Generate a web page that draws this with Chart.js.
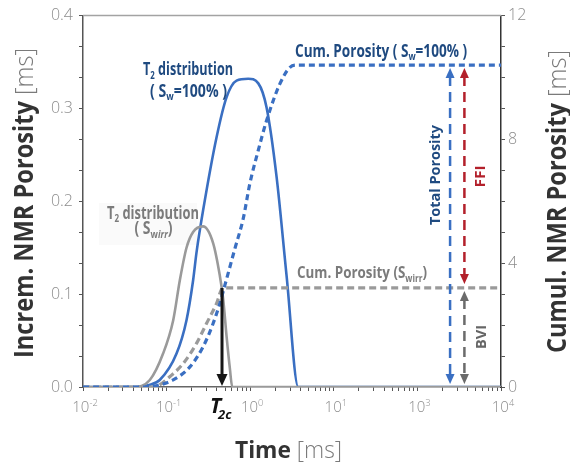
<!DOCTYPE html>
<html>
<head>
<meta charset="utf-8">
<script src="https://cdn.jsdelivr.net/npm/chart.js@4.4.1/dist/chart.umd.min.js"></script>
<style>
  html, body { margin: 0; padding: 0; background: #fff; overflow: hidden; }
  canvas { display: block; }
</style>
</head>
<body>
<canvas id="nmr" width="570" height="466"></canvas>
<script>
// ---- Relaxation-time axis (ms) ----
const xMin = 0.01;
const xMax = 1000;
const xTickValues = [0.01, 0.1, 1, 10, 100, 1000];
const xTickExponents = ['-2', '-1', '0', '1', '3', '4'];
const xMinorFactors = [2, 3, 4, 5, 6, 7, 8, 9];

// ---- Incremental porosity axis (left) ----
const yLeftMax = 0.4;
const yLeftLabelValues = [0, 0.1, 0.2, 0.3, 0.4];
const yLeftMinorPerLabel = 3;

// ---- Cumulative porosity axis (right) ----
const yRightMax = 12;
const yRightLabelValues = [0, 4, 8, 12];
const yRightStep = 1;

// ---- T2 distribution, fully water saturated ----
const t2SwTimes  = [0.01, 0.045, 0.06, 0.0828, 0.1315, 0.173, 0.2076, 0.228, 0.273, 0.396, 0.521, 0.687, 0.946, 1.25, 1.57, 2.07, 2.73, 3.76, 1000];
const t2SwValues = [0,    0,     0.002, 0.0075, 0.036, 0.072, 0.115,  0.145, 0.19,  0.269, 0.312, 0.330, 0.332, 0.327, 0.301, 0.226, 0.119, 0,   0];

// ---- T2 distribution, irreducible water saturation ----
const t2IrrTimes  = [0.01, 0.04, 0.063, 0.0908, 0.12, 0.144, 0.173, 0.2076, 0.273, 0.36, 0.433, 0.475, 0.521, 0.571, 0.61, 1000];
const t2IrrValues = [0,    0,    0.0075, 0.036, 0.072, 0.115, 0.150, 0.167,  0.173, 0.155, 0.12, 0.095, 0.055, 0.02, 0,    0];

// ---- Cumulative porosity, fully water saturated ----
const cumSwTimes  = [0.01, 0.06, 0.075, 0.12, 0.19, 0.273, 0.36, 0.433, 0.498, 0.656, 0.825, 0.99, 1.25, 1.57, 2.27, 2.99, 3.6, 1000];
const cumSwValues = [0,    0,    0.04,  0.23, 0.65, 1.30,  2.05, 2.70,  3.29,  4.47,  5.44,  6.57, 7.65, 8.61, 9.8,  10.33, 10.4, 10.4];

// ---- Cumulative porosity, irreducible water saturation ----
const cumIrrTimes  = [0.01, 0.065, 0.08, 0.109, 0.158, 0.228, 0.30, 0.396, 0.47, 1000];
const cumIrrValues = [0,    0,     0.05, 0.33,  0.76,  1.41,  2.05, 2.70,  3.2,  3.2];

// ---- Derived quantities shown with arrows ----
const t2Cutoff = 0.46;          // T2c
const totalPorosity = 10.4;     // plateau of the Sw=100% cumulative curve
const boundVolume = 3.2;        // plateau of the Swirr cumulative curve
const totalArrowTime = 246;
const splitArrowTime = 365;

const FONT = '"Open Sans", "Noto Sans", "DejaVu Sans", sans-serif';
const NAVY = '#1f4a80';
const BLUE = '#3a6fc2';
const GREY = '#9a9a9a';
const RED = '#b3202b';

const pts = (xs, ys) => xs.map((x, i) => ({ x, y: ys[i] }));

function xTicksList() {
  const list = [];
  for (let d = 0; d < xTickValues.length; d++) {
    list.push({ value: xTickValues[d], major: true });
    if (d < xTickValues.length - 1) {
      xMinorFactors.forEach(f => list.push({ value: xTickValues[d] * f, major: false }));
    }
  }
  return list;
}

function fontStr(size, weight, italic) {
  return (italic ? 'italic ' : '') + weight + ' ' + size + 'px ' + FONT;
}

// Draws a run of text pieces (with optional sub/superscripts) centred on (x, y baseline),
// squeezed horizontally to the requested width.
function drawRich(ctx, parts, opt) {
  ctx.save();
  ctx.translate(opt.x, opt.y);
  if (opt.rotate) ctx.rotate(opt.rotate);
  const items = parts.map(p => {
    const sz = (p.sub || p.sup) ? opt.size * 0.62 : opt.size;
    const f = fontStr(sz, p.weight || opt.weight, p.italic || opt.italic);
    ctx.font = f;
    return { p, f, w: ctx.measureText(p.t).width };
  });
  const natural = items.reduce((a, b) => a + b.w, 0);
  const sx = opt.width ? opt.width / natural : 1;
  ctx.scale(sx, 1);
  let cx = -natural / 2;
  ctx.textBaseline = 'alphabetic';
  ctx.textAlign = 'left';
  items.forEach(it => {
    ctx.font = it.f;
    ctx.fillStyle = it.p.color || opt.color;
    const dy = it.p.sub ? opt.size * 0.22 : (it.p.sup ? -opt.size * 0.42 : 0);
    ctx.fillText(it.p.t, cx, dy);
    cx += it.w;
  });
  ctx.restore();
}

function head(ctx, x, tipY, dir, w, l, color) {
  ctx.beginPath();
  ctx.moveTo(x, tipY);
  ctx.lineTo(x - w / 2, tipY - dir * l);
  ctx.lineTo(x + w / 2, tipY - dir * l);
  ctx.closePath();
  ctx.fillStyle = color;
  ctx.fill();
}

function vArrow(ctx, x, yTop, yBot, o) {
  ctx.save();
  ctx.strokeStyle = o.color;
  ctx.lineWidth = o.width;
  ctx.setLineDash(o.dash || []);
  ctx.beginPath();
  ctx.moveTo(x, o.headTop ? yTop + o.l * 0.8 : yTop);
  ctx.lineTo(x, o.headBot ? yBot - o.l * 0.8 : yBot);
  ctx.stroke();
  ctx.setLineDash([]);
  if (o.headTop) head(ctx, x, yTop, -1, o.w, o.l, o.color);
  if (o.headBot) head(ctx, x, yBot, 1, o.w, o.l, o.color);
  ctx.restore();
}

const decor = {
  id: 'decor',
  beforeDraw(chart) {
    const ctx = chart.ctx;
    ctx.save();
    ctx.fillStyle = '#fff';
    ctx.fillRect(0, 0, chart.width, chart.height);
    ctx.restore();
  },
  beforeDatasetsDraw(chart) {
    // faint backing panel behind the Swirr distribution caption
    const ctx = chart.ctx;
    ctx.save();
    ctx.fillStyle = '#fafafa';
    ctx.fillRect(99, 203, 98, 42);
    ctx.restore();
  },
  afterDraw(chart) {
    const ctx = chart.ctx;
    const a = chart.chartArea;
    const xs = chart.scales.x, yr = chart.scales.y1;

    // frame top edge
    ctx.save();
    ctx.strokeStyle = '#a3a3a3';
    ctx.lineWidth = 1.5;
    ctx.beginPath();
    ctx.moveTo(a.left, a.top);
    ctx.lineTo(a.right, a.top);
    ctx.stroke();
    ctx.restore();

    // x tick labels with exponents
    xTickValues.forEach((v, i) => {
      const px = xs.getPixelForValue(v);
      drawRich(ctx, [{ t: '10' }, { t: xTickExponents[i], sup: true }],
        { x: px + 2, y: 412, size: 15, weight: 300, color: '#8c8c8c' });
    });

    // T2 cutoff arrow
    const xc = xs.getPixelForValue(t2Cutoff);
    vArrow(ctx, xc, yr.getPixelForValue(boundVolume), yr.getPixelForValue(0) - 1,
      { color: '#151515', width: 3, headBot: true, w: 11, l: 12 });

    // total porosity, FFI and BVI arrows
    const xt = xs.getPixelForValue(totalArrowTime);
    const xsplit = xs.getPixelForValue(splitArrowTime);
    vArrow(ctx, xt, yr.getPixelForValue(totalPorosity) + 3, yr.getPixelForValue(0) - 3,
      { color: BLUE, width: 2.5, dash: [10, 6], headTop: true, headBot: true, w: 9, l: 10 });
    vArrow(ctx, xsplit, yr.getPixelForValue(totalPorosity) + 3, yr.getPixelForValue(boundVolume) - 4,
      { color: RED, width: 2.5, dash: [10, 6], headTop: true, headBot: true, w: 9, l: 10 });
    vArrow(ctx, xsplit, yr.getPixelForValue(boundVolume) + 3, yr.getPixelForValue(0) - 3,
      { color: '#6b6b6b', width: 2.5, dash: [10, 6], headTop: true, headBot: true, w: 9, l: 10 });

    // curve annotations
    drawRich(ctx, [{ t: 'T' }, { t: '2', sub: true }, { t: ' distribution' }],
      { x: 188, y: 75, size: 17, weight: 700, color: NAVY, width: 90 });
    drawRich(ctx, [{ t: '( S' }, { t: 'w', sub: true }, { t: '=100% )' }],
      { x: 188.5, y: 96.5, size: 17, weight: 700, color: NAVY, width: 77 });
    drawRich(ctx, [{ t: 'Cum. Porosity ( S' }, { t: 'w', sub: true }, { t: '=100% )' }],
      { x: 381, y: 56.5, size: 17, weight: 700, color: NAVY, width: 172 });
    drawRich(ctx, [{ t: 'T' }, { t: '2', sub: true }, { t: ' distribution' }],
      { x: 153, y: 218.5, size: 17, weight: 700, color: '#7b7b7b', width: 92 });
    drawRich(ctx, [{ t: '( S' }, { t: 'w', sub: true }, { t: 'irr', sub: true, italic: true }, { t: ')' }],
      { x: 153.5, y: 234, size: 17, weight: 700, color: '#7b7b7b', width: 38 });
    drawRich(ctx, [{ t: 'Cum. Porosity (S' }, { t: 'wirr', sub: true }, { t: ')' }],
      { x: 362, y: 278, size: 16, weight: 700, color: '#7b7b7b', width: 130 });
    drawRich(ctx, [{ t: 'Total Porosity' }],
      { x: 440, y: 175, size: 15, weight: 700, color: NAVY, width: 100, rotate: -Math.PI / 2 });
    drawRich(ctx, [{ t: 'FFI' }],
      { x: 485, y: 176.5, size: 14, weight: 700, color: RED, width: 22, rotate: -Math.PI / 2 });
    drawRich(ctx, [{ t: 'BVI' }],
      { x: 486, y: 337, size: 14, weight: 700, color: '#666', width: 24, rotate: -Math.PI / 2 });

    // T2c label
    ctx.save();
    ctx.fillStyle = '#111';
    ctx.font = fontStr(21, 700, true);
    ctx.textAlign = 'left';
    ctx.textBaseline = 'alphabetic';
    ctx.fillText('T', 210, 413);
    ctx.font = fontStr(13, 700, true);
    ctx.fillText('2c', 218, 418.5);
    ctx.restore();

    // axis titles
    drawRich(ctx, [{ t: 'Time ', color: '#333' }, { t: '[ms]', weight: 300, color: '#7a7a7a' }],
      { x: 288.5, y: 457.5, size: 24, weight: 700, width: 107 });
    drawRich(ctx, [{ t: 'Increm. NMR Porosity ', color: '#333' }, { t: '[ms]', weight: 300, color: '#7a7a7a' }],
      { x: 33, y: 203, size: 26, weight: 700, width: 310, rotate: -Math.PI / 2 });
    drawRich(ctx, [{ t: 'Cumul. NMR Porosity ', color: '#333' }, { t: '[ms]', weight: 300, color: '#7a7a7a' }],
      { x: 566, y: 201.5, size: 26, weight: 700, width: 303, rotate: -Math.PI / 2 });
  }
};

const tickFont = { family: FONT, size: 16, weight: '300' };
const tickGrid = { drawOnChartArea: false, drawTicks: true, tickLength: 4, color: '#555', lineWidth: 1 };

new Chart(document.getElementById('nmr'), {
  type: 'line',
  data: {
    datasets: [
      {
        label: 'Cum. Porosity (Sw=100%)',
        data: pts(cumSwTimes, cumSwValues),
        yAxisID: 'y1', borderColor: BLUE, borderWidth: 3.2, borderDash: [6, 4],
        pointRadius: 0, cubicInterpolationMode: 'monotone', fill: false, order: 0
      },
      {
        label: 'Cum. Porosity (Swirr)',
        data: pts(cumIrrTimes, cumIrrValues),
        yAxisID: 'y1', borderColor: GREY, borderWidth: 3.2, borderDash: [7, 4],
        pointRadius: 0, cubicInterpolationMode: 'monotone', fill: false, order: 1
      },
      {
        label: 'T2 distribution (Swirr)',
        data: pts(t2IrrTimes, t2IrrValues),
        yAxisID: 'y', borderColor: GREY, borderWidth: 2.6,
        pointRadius: 0, cubicInterpolationMode: 'monotone', fill: false, order: 2
      },
      {
        label: 'T2 distribution (Sw=100%)',
        data: pts(t2SwTimes, t2SwValues),
        yAxisID: 'y', borderColor: BLUE, borderWidth: 2.6,
        pointRadius: 0, cubicInterpolationMode: 'monotone', fill: false, order: 3
      }
    ]
  },
  options: {
    responsive: false,
    animation: false,
    devicePixelRatio: 1,
    layout: { padding: { top: 15, left: 0, right: 0, bottom: 0 } },
    plugins: { legend: { display: false }, tooltip: { enabled: false } },
    scales: {
      x: {
        type: 'logarithmic', min: xMin, max: xMax, position: 'bottom',
        afterBuildTicks: s => { s.ticks = xTicksList(); },
        afterFit: s => { s.height = 79; },
        ticks: { autoSkip: false, maxRotation: 0, callback: () => '', font: tickFont },
        grid: tickGrid,
        border: { color: '#666', width: 1.5 }
      },
      y: {
        type: 'linear', min: 0, max: yLeftMax, position: 'left',
        afterBuildTicks: s => {
          const step = (yLeftLabelValues[1] - yLeftLabelValues[0]) / yLeftMinorPerLabel;
          const n = Math.round(yLeftMax / step);
          s.ticks = Array.from({ length: n + 1 }, (_, k) => ({ value: k * step }));
        },
        afterFit: s => { s.width = 83; },
        ticks: {
          autoSkip: false, padding: 6, color: '#8c8c8c', font: tickFont,
          callback: v => {
            const hit = yLeftLabelValues.find(l => Math.abs(l - v) < 1e-9);
            return hit === undefined ? '' : hit.toFixed(1);
          }
        },
        grid: tickGrid,
        border: { color: '#555', width: 1.5 }
      },
      y1: {
        type: 'linear', min: 0, max: yRightMax, position: 'right',
        afterBuildTicks: s => {
          const n = Math.round(yRightMax / yRightStep);
          s.ticks = Array.from({ length: n + 1 }, (_, k) => ({ value: k * yRightStep }));
        },
        afterFit: s => { s.width = 69; },
        ticks: {
          autoSkip: false, padding: 3, color: '#8c8c8c', font: tickFont,
          callback: v => (yRightLabelValues.includes(v) ? String(v) : '')
        },
        grid: tickGrid,
        border: { color: '#333', width: 1.5 }
      }
    }
  },
  plugins: [decor]
});
</script>
</body>
</html>
